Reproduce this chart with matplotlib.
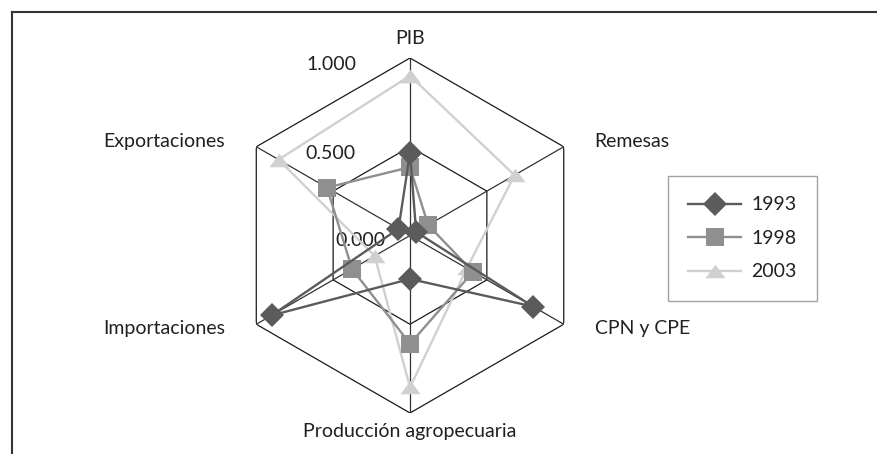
import numpy as np
import matplotlib
matplotlib.use("Agg")
import matplotlib.pyplot as plt
from matplotlib.lines import Line2D

plt.rcParams['font.family'] = ['Lato', 'DejaVu Sans']

# data
categories = ['PIB', 'Remesas', 'CPN y CPE', 'Producción agropecuaria',
              'Importaciones', 'Exportaciones']
v1993 = [0.465, 0.04, 0.80, 0.245, 0.90, 0.075]
v1998 = [0.385, 0.118, 0.41, 0.61, 0.377, 0.54]
v2003 = [0.90, 0.68, 0.37, 0.855, 0.23, 0.855]
years = ['1993', '1998', '2003']
ring_values = [0.0, 0.5, 1.0]
ring_labels = ['0.000', '0.500', '1.000']

c93 = '#5b5b5c'
c98 = '#8e8f91'
c03 = '#cfd0d1'

fig = plt.figure(figsize=(8.78, 4.54), dpi=100)
W, H = 878, 454

# frame line (top and left only)
fig.add_artist(Line2D([12 / W, 12 / W], [0, 1 - 12 / H], color='#333333', lw=1.5))
fig.add_artist(Line2D([12 / W, 1], [1 - 12 / H, 1 - 12 / H], color='#333333', lw=1.5))

cx, cy, R = 410, 235.5, 177.5
ax = fig.add_axes([(cx - R) / W, 1 - (cy + R) / H, 2 * R / W, 2 * R / H],
                  projection='polar')
ax.set_theta_offset(np.pi / 2)
ax.set_theta_direction(-1)
ax.set_ylim(0, 1)
ax.grid(False)
ax.spines['polar'].set_visible(False)
ax.set_xticks([])
ax.set_yticks([])
ax.patch.set_alpha(0)

n = len(categories)
angles = np.arange(n) * 2 * np.pi / n
closed = np.append(angles, angles[0])

# hexagon rings and spokes
for rv in ring_values[1:]:
    ax.plot(closed, [rv] * (n + 1), color='#1a1a1a', lw=0.9, zorder=1)
for a in angles:
    ax.plot([a, a], [0, 1], color='#333333', lw=0.9, zorder=1)

tri = [(-1, -0.67), (1, -0.67), (0, 0.67)]
series = [
    (v1993, c93, 'D', 12.5),
    (v1998, c98, 's', 13),
    (v2003, c03, tri, 14.5),
]
handles = []
for vals, col, mk, ms in series:
    h, = ax.plot(closed, vals + vals[:1], color=col, lw=1.7, marker=mk,
                 markersize=ms, markeredgewidth=0, zorder=3, clip_on=False)
    handles.append(h)
# draw order like reference: 2003 below, 1993 on top
handles[0].set_zorder(5)
handles[1].set_zorder(4)

fs = 14
# category labels
offsets = [(0, 20), (31, 5), (31, -4), (0, -19), (-31, -4), (-31, 5)]
aligns = [('center', 'center'), ('left', 'center'), ('left', 'center'),
          ('center', 'center'), ('right', 'center'), ('right', 'center')]
for a, lab, off, (ha, va) in zip(angles, categories, offsets, aligns):
    ax.annotate(lab, xy=(a, 1), xytext=off, textcoords='offset pixels',
                ha=ha, va=va, fontsize=fs, color='#231f20', annotation_clip=False)

# ring value labels
ring_off = [(-25, -5), (-54, -7), (-54, -7)]
for rv, rl, off in zip(ring_values, ring_labels, ring_off):
    ax.annotate(rl, xy=(0, rv), xytext=off, textcoords='offset pixels',
                ha='right', va='center', fontsize=fs, color='#231f20',
                annotation_clip=False, zorder=2)

leg = fig.legend(handles, years, loc='upper left',
                 bbox_to_anchor=(668 / W, 1 - 176 / H), fontsize=fs,
                 frameon=True, fancybox=False, handlelength=2.7,
                 labelspacing=0.85, borderpad=1.05, handletextpad=0.55,
                 borderaxespad=0)
leg.get_frame().set_edgecolor('#8c8c8c')
leg.get_frame().set_linewidth(1.0)
for t in leg.get_texts():
    t.set_color('#231f20')

fig.savefig('out.png', dpi=100, facecolor='white')
